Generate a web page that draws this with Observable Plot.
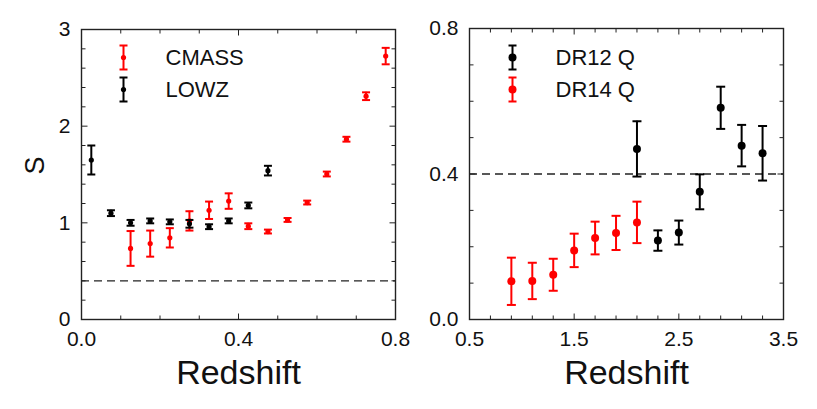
<!DOCTYPE html>
<html><head><meta charset="utf-8">
<script src="https://cdn.jsdelivr.net/npm/d3@7"></script>
<script src="https://cdn.jsdelivr.net/npm/@observablehq/plot@0.6"></script>
<style>
body{margin:0;background:#fff}
#wrap{position:relative;width:817px;height:409px;overflow:hidden;background:#fff}
#left,#right{position:absolute;top:0}
#left{left:0;z-index:2}
#right{left:407px;z-index:1}
</style>
</head><body>
<div id="wrap"><div id="left"></div><div id="right"></div></div>
<script>
// ---- Left panel data (galaxies) ----
const lowzZ   = [0.025,0.075,0.125,0.175,0.225,0.275,0.325,0.375,0.425,0.475];
const lowzS   = [1.65,1.10,1.00,1.02,1.01,0.99,0.96,1.02,1.18,1.54];
const lowzErr = [0.15,0.03,0.03,0.025,0.025,0.04,0.025,0.025,0.03,0.05];

const cmassZ   = [0.125,0.175,0.225,0.275,0.325,0.375,0.425,0.475,0.525,0.575,0.625,0.675,0.725,0.775];
const cmassS   = [0.735,0.785,0.845,1.02,1.13,1.225,0.965,0.91,1.03,1.21,1.505,1.865,2.31,2.725];
const cmassErr = [0.18,0.135,0.10,0.10,0.09,0.08,0.03,0.02,0.02,0.02,0.025,0.025,0.04,0.085];

// ---- Right panel data (quasars) ----
const dr14Z   = [0.9,1.1,1.3,1.5,1.7,1.9,2.1];
const dr14S   = [0.105,0.106,0.123,0.190,0.224,0.238,0.267];
const dr14Err = [0.065,0.05,0.044,0.046,0.045,0.047,0.057];

const dr12Z   = [2.1,2.3,2.5,2.7,2.9,3.1,3.3];
const dr12S   = [0.469,0.217,0.239,0.351,0.582,0.478,0.457];
const dr12Err = [0.076,0.028,0.033,0.048,0.058,0.057,0.075];

const refLevel = [0.4];

// ---- axes / tick labels ----
const leftXDomain = [0, 0.8], leftYDomain = [0, 3];
const leftXLabels = [0, 0.4, 0.8], leftYLabels = [0, 1, 2, 3];
const leftXMinor = [0.1,0.2,0.3,0.5,0.6,0.7];
const leftYMinor = [0.2,0.4,0.6,0.8,1.2,1.4,1.6,1.8,2.2,2.4,2.6,2.8];

const rightXDomain = [0.5, 3.5], rightYDomain = [0, 0.8];
const rightXLabels = [0.5, 1.5, 2.5, 3.5], rightYLabels = [0, 0.4, 0.8];
const rightXMinor = [0.7,0.9,1.1,1.3,1.7,1.9,2.1,2.3,2.7,2.9,3.1,3.3];
const rightYMinor = [0.1,0.2,0.3,0.5,0.6,0.7];

const toRows = (z, s, e) => z.map((d, i) => ({z: d, s: s[i], e: e[i]}));

const tickShape = {draw(ctx, l) { ctx.moveTo(0, 0); ctx.lineTo(0, -l); }};
const capShape  = {draw(ctx, l) { ctx.moveTo(-l / 2, 0); ctx.lineTo(l / 2, 0); }};
const legendBar = (h, w) => ({draw(ctx) {
  ctx.moveTo(0, -h); ctx.lineTo(0, h);
  ctx.moveTo(-w / 2, -h); ctx.lineTo(w / 2, -h);
  ctx.moveTo(-w / 2, h); ctx.lineTo(w / 2, h);
}});

function sideTicks(vals, len, xd, yd) {
  const c = {anchor: "start", shape: tickShape, stroke: "#222", strokeWidth: 1, strokeLinecap: "butt", fill: "none", length: len};
  return [
    Plot.vector(vals.x, {...c, x: d => d, y: () => yd[0], rotate: 0}),
    Plot.vector(vals.x, {...c, x: d => d, y: () => yd[1], rotate: 180}),
    Plot.vector(vals.y, {...c, y: d => d, x: () => xd[0], rotate: 90}),
    Plot.vector(vals.y, {...c, y: d => d, x: () => xd[1], rotate: -90})
  ];
}

function errorSeries(rows, color, r, capW) {
  return [
    Plot.ruleX(rows, {x: "z", y1: d => d.s - d.e, y2: d => d.s + d.e, stroke: color, strokeWidth: 2}),
    Plot.vector(rows, {x: "z", y: d => d.s - d.e, length: capW, anchor: "start", shape: capShape, stroke: color, strokeWidth: 2, strokeLinecap: "butt", fill: "none", rotate: 0}),
    Plot.vector(rows, {x: "z", y: d => d.s + d.e, length: capW, anchor: "start", shape: capShape, stroke: color, strokeWidth: 2, strokeLinecap: "butt", fill: "none", rotate: 0}),
    Plot.dot(rows, {x: "z", y: "s", r, fill: color, stroke: "none"})
  ];
}

function legendEntry(label, color, r, dx, dy, textDx) {
  return [
    Plot.vector([label], {frameAnchor: "top-left", dx, dy, length: 1, anchor: "start", shape: legendBar(12, 8), stroke: color, strokeWidth: 2, strokeLinecap: "butt", fill: "none"}),
    Plot.dot([label], {frameAnchor: "top-left", dx, dy, r, fill: color, stroke: "none"}),
    Plot.text([label], {frameAnchor: "top-left", dx: textDx, dy, text: d => d, textAnchor: "start", lineAnchor: "middle", fontSize: 22, fill: "#111"})
  ];
}

const fontFamily = "'Liberation Sans', Arial, Helvetica, sans-serif";

function panel(cfg) {
  return Plot.plot({
    width: cfg.width, height: 409,
    marginLeft: cfg.ml, marginRight: cfg.mr, marginTop: cfg.mt, marginBottom: 90,
    style: {fontFamily, fontSize: "21px", background: "none", color: "#111", overflow: "visible"},
    x: {domain: cfg.xd, nice: false},
    y: {domain: cfg.yd, nice: false},
    marks: [
      Plot.ruleY(refLevel, {stroke: "#222", strokeWidth: 1.4, strokeDasharray: "8,5"}),
      ...sideTicks({x: cfg.xMinor, y: cfg.yMinor}, 4, cfg.xd, cfg.yd),
      ...sideTicks({x: cfg.xLabels, y: cfg.yLabels}, 6, cfg.xd, cfg.yd),
      ...cfg.series,
      Plot.frame({stroke: "#222", strokeWidth: 1.4}),
      Plot.axisX({ticks: cfg.xLabels, tickSize: 0, tickPadding: 12, tickFormat: cfg.xFmt, label: null, fill: "#111"}),
      Plot.axisY({ticks: cfg.yLabels, tickSize: 0, tickPadding: 11, tickFormat: cfg.yFmt, label: null, fill: "#111"}),
      Plot.text(["Redshift"], {frameAnchor: "bottom", dy: 64, lineAnchor: "bottom", fontSize: 34, fill: "#111"}),
      ...(cfg.yTitle ? [Plot.text([cfg.yTitle], {frameAnchor: "left", dx: -46, rotate: -90, fontSize: 27, fill: "#111"})] : []),
      ...cfg.legend
    ]
  });
}

const leftPlot = panel({
  width: 410, ml: 81, mr: 15, mt: 29,
  xd: leftXDomain, yd: leftYDomain,
  xLabels: leftXLabels, yLabels: leftYLabels, xMinor: leftXMinor, yMinor: leftYMinor,
  xFmt: d3.format(".1f"), yFmt: d3.format("d"),
  yTitle: "S",
  series: [
    ...errorSeries(toRows(cmassZ, cmassS, cmassErr), "#ff0000", 2.6, 8),
    ...errorSeries(toRows(lowzZ, lowzS, lowzErr), "#000", 2.6, 8)
  ],
  legend: [
    ...legendEntry("CMASS", "#ff0000", 2.6, 42, 28, 84),
    ...legendEntry("LOWZ", "#000", 2.6, 42, 60, 84)
  ]
});

const rightPlot = panel({
  width: 410, ml: 62, mr: 34, mt: 28,
  xd: rightXDomain, yd: rightYDomain,
  xLabels: rightXLabels, yLabels: rightYLabels, xMinor: rightXMinor, yMinor: rightYMinor,
  xFmt: d3.format(".1f"), yFmt: d3.format(".1f"),
  yTitle: null,
  series: [
    ...errorSeries(toRows(dr14Z, dr14S, dr14Err), "#ff0000", 4, 9),
    ...errorSeries(toRows(dr12Z, dr12S, dr12Err), "#000", 4, 9)
  ],
  legend: [
    ...legendEntry("DR12 Q", "#000", 4, 43, 29, 86),
    ...legendEntry("DR14 Q", "#ff0000", 4, 43, 61, 86)
  ]
});

document.getElementById("left").appendChild(leftPlot);
document.getElementById("right").appendChild(rightPlot);
</script>
</body></html>
